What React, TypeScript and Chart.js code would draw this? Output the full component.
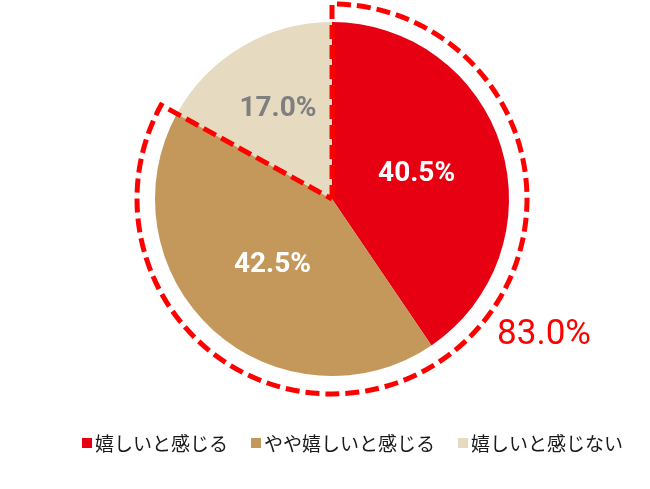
import React, { useEffect, useRef } from "react";
import { Chart, registerables } from "chart.js";

Chart.register(...registerables);

const categories = ["嬉しいと感じる", "やや嬉しいと感じる", "嬉しいと感じない"];
const values = [40.5, 42.5, 17.0];
const sliceColors = ["#E60012", "#C4975A", "#E6DBC0"];
const labelColors = ["#FFFFFF", "#FFFFFF", "#7F7F7F"];
const labelRadiusFactors = [1.0, 1.0, 1.2];
const highlightTotal = "83.0%";
const highlightCount = 2; // first two slices are outlined

const LABEL_FONT = "bold 28px 'Liberation Sans Narrow', 'Roboto', sans-serif";
const LEGEND_FONT = "19px 'Noto Sans CJK JP', sans-serif";

const overlayPlugin = {
  id: "overlay",
  afterDatasetsDraw(chart: any) {
    const ctx = chart.ctx;
    const meta = chart.getDatasetMeta(0);
    const arcs = meta.data;
    // percentage labels
    ctx.save();
    ctx.font = LABEL_FONT;
    ctx.textAlign = "center";
    ctx.textBaseline = "middle";
    arcs.forEach((arc: any, i: number) => {
      const p = arc.getProps(["x", "y", "startAngle", "endAngle", "outerRadius"], true);
      const mid = (p.startAngle + p.endAngle) / 2;
      const r = (p.outerRadius / 2) * labelRadiusFactors[i];
      ctx.fillStyle = labelColors[i];
      ctx.fillText(values[i].toFixed(1) + "%", p.x + Math.cos(mid) * r, p.y + Math.sin(mid) * r + 1);
    });
    ctx.restore();

    // dashed outline around first slices
    const first = arcs[0].getProps(["x", "y", "startAngle", "outerRadius"], true);
    const last = arcs[highlightCount - 1].getProps(["endAngle"], true);
    const R = first.outerRadius + 18;
    ctx.save();
    ctx.strokeStyle = "#FF0000";
    ctx.lineWidth = 5;
    ctx.setLineDash([14, 6]);
    ctx.beginPath();
    ctx.moveTo(first.x, first.y);
    ctx.lineTo(first.x + Math.cos(first.startAngle) * R, first.y + Math.sin(first.startAngle) * R);
    ctx.arc(first.x, first.y, R, first.startAngle, last.endAngle);
    ctx.lineTo(first.x, first.y);
    ctx.stroke();
    ctx.restore();

    // total label
    ctx.save();
    ctx.font = "35px 'Roboto', sans-serif";
    ctx.fillStyle = "#FF0000";
    ctx.textAlign = "center";
    ctx.textBaseline = "middle";
    ctx.fillText(highlightTotal, first.x + 212, first.y + 136);
    ctx.restore();
  },
  afterDraw(chart: any) {
    const ctx = chart.ctx;
    ctx.save();
    ctx.font = LEGEND_FONT;
    ctx.textBaseline = "middle";
    const box = 10;
    const gapBoxText = 3;
    const gapItems = 23;
    let x = 82;
    const y = 443;
    categories.forEach((c, i) => {
      ctx.fillStyle = sliceColors[i];
      ctx.fillRect(x, y - box / 2, box, box);
      ctx.fillStyle = "#1A1A1A";
      ctx.fillText(c, x + box + gapBoxText, y + 1);
      x += box + gapBoxText + ctx.measureText(c).width + gapItems;
    });
    ctx.restore();
  },
};

export default function App() {
  const ref = useRef<HTMLCanvasElement | null>(null);
  useEffect(() => {
    document.body.style.margin = "0";
    const canvas = ref.current!;
    const chart = new Chart(canvas, {
      type: "pie",
      data: {
        labels: categories,
        datasets: [
          {
            data: values,
            backgroundColor: sliceColors,
            borderWidth: 0,
          },
        ],
      },
      options: {
        responsive: false,
        animation: false,
        layout: { padding: { left: 155, right: 141, top: 22, bottom: 113 } },
        plugins: {
          legend: { display: false },
          tooltip: { enabled: false },
        },
      },
      plugins: [overlayPlugin],
    });
    return () => chart.destroy();
  }, []);
  return (
    <div style={{ width: 650, height: 489, background: "#fff" }}>
      <canvas ref={ref} width={650} height={489} />
    </div>
  );
}
